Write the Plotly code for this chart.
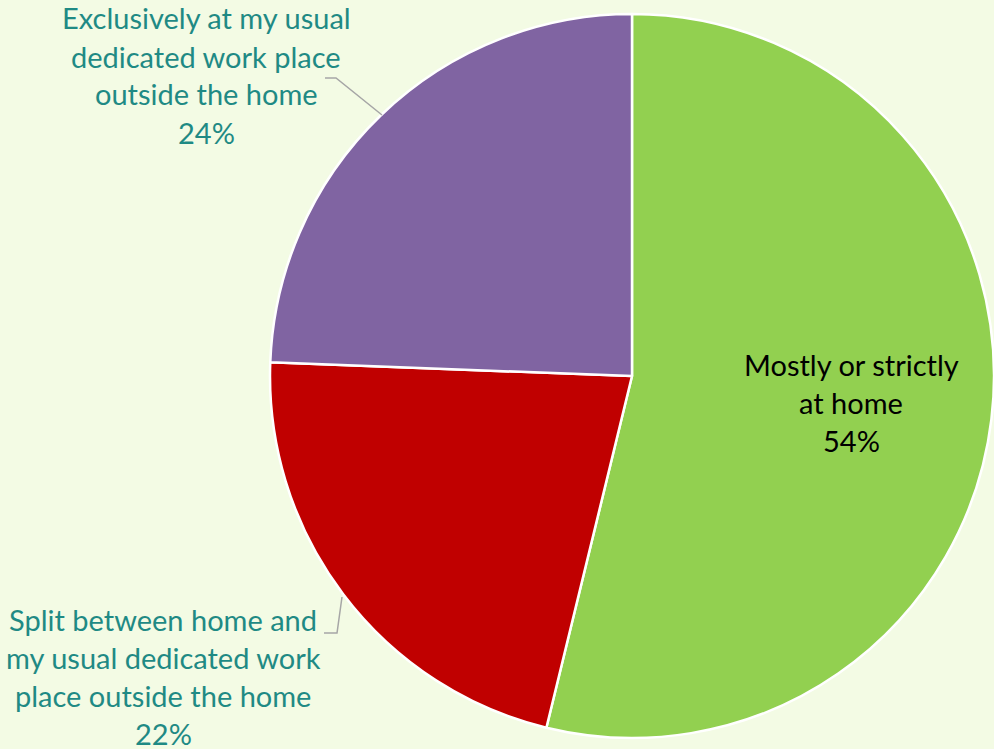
import plotly.graph_objects as go

categories = ["Mostly or strictly at home",
              "Split between home and my usual dedicated work place outside the home",
              "Exclusively at my usual dedicated work place outside the home"]
values = [53.8, 21.8, 24.4]
colors = ["#92D050", "#C00000", "#8064A2"]
label_lines = [
    ["Mostly or strictly", "at home"],
    ["Split between home and", "my usual dedicated work", "place outside the home"],
    ["Exclusively at my usual", "dedicated work place", "outside the home"],
]

W, H = 994, 749
fig = go.Figure(go.Pie(
    labels=categories, values=values, sort=False, direction="clockwise", rotation=0,
    marker=dict(colors=colors, line=dict(color="white", width=2.5)),
    textinfo="none", hoverinfo="label+percent", showlegend=False,
    domain=dict(x=[(632 - 362) / W, (632 + 362) / W], y=[(H - 738) / H, (H - 14) / H]),
))

font_family = "Lato, 'Open Sans', sans-serif"
# label block anchor (x center px, first line y px), text colour
blocks = [
    (851, 364, "#000000"),
    (163, 619, "#1F8A84"),
    (206, 18, "#1F8A84"),
]
step = 38.0
total = sum(values)
for lines, val, (cx, y0, col) in zip(label_lines, values, blocks):
    all_lines = lines + [f"{round(100 * val / total)}%"]
    for i, t in enumerate(all_lines):
        fig.add_annotation(x=cx / W, y=1 - (y0 + i * step) / H, xref="paper", yref="paper",
                           text=t, showarrow=False, xanchor="center", yanchor="middle",
                           font=dict(family=font_family, size=29, color=col))

# leader lines
fig.add_shape(type="path", xref="paper", yref="paper",
              path=f"M {325/W},{1-78/H} L {336/W},{1-78/H} L {382/W},{1-115/H}",
              line=dict(color="#A6A6A6", width=1.5))
fig.add_shape(type="path", xref="paper", yref="paper",
              path=f"M {324/W},{1-633/H} L {337/W},{1-633/H} L {342/W},{1-597/H}",
              line=dict(color="#A6A6A6", width=1.5))

fig.update_layout(width=W, height=H, margin=dict(l=0, r=0, t=0, b=0),
                  paper_bgcolor="#F3FBE4", plot_bgcolor="#F3FBE4")
fig.write_html("out.html", config={"displayModeBar": False},
               post_script="document.body.style.margin='0';document.body.style.overflow='hidden';")
